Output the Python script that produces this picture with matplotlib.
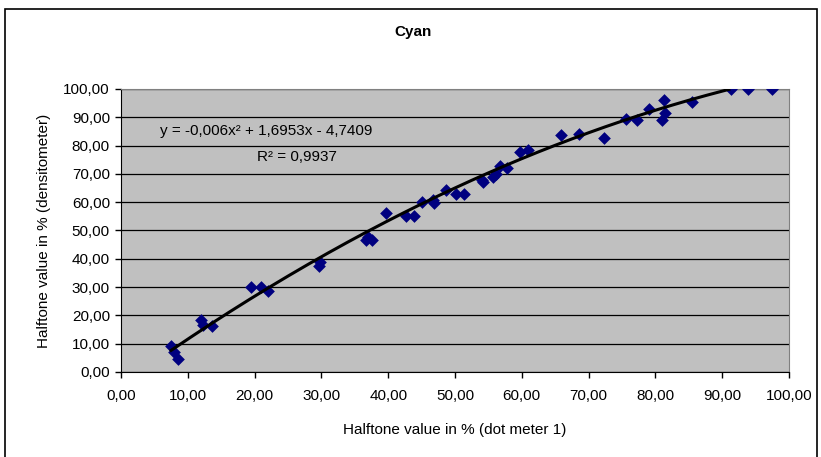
import numpy as np
import matplotlib
matplotlib.use("Agg")
import matplotlib.pyplot as plt
from matplotlib.ticker import FuncFormatter, MultipleLocator
from matplotlib.patches import Rectangle

plt.rcParams['font.family'] = ['Liberation Sans', 'DejaVu Sans']

# Data
dot_meter = [7.5, 8.0, 8.6, 12.0, 12.3, 13.6, 19.5, 21.0, 22.0, 29.7, 29.8,
             36.7, 37.0, 37.6, 39.7, 42.7, 43.8, 45.1, 46.7, 46.8, 48.6,
             50.2, 51.3, 54.1, 54.2, 55.7, 56.2, 56.7, 57.8, 59.8, 60.9,
             65.8, 68.6, 72.3, 75.6, 77.3, 79.0, 81.0, 81.5, 81.3, 85.5,
             91.3, 93.9, 97.5]
densitometer = [9.3, 7.0, 4.5, 18.2, 16.5, 16.2, 30.0, 30.0, 28.5, 37.5, 39.0,
                46.8, 47.8, 46.6, 56.1, 55.0, 55.0, 59.9, 60.8, 59.6, 64.2,
                63.0, 63.0, 68.0, 67.2, 68.8, 70.0, 72.8, 72.0, 77.8, 78.6,
                83.8, 84.0, 82.8, 89.4, 89.0, 92.9, 89.0, 91.5, 96.0, 95.5,
                100.0, 100.0, 100.0]

# polynomial trendline (from the equation shown on the chart)
coef = [-0.006, 1.6953, -4.7409]
trend_end = 91.0
r_squared = "0,9937"

fs = 11

fig = plt.figure(figsize=(8.21, 4.57), dpi=100)
ax = fig.add_axes([0.1474, 0.186, 0.8136, 0.6193])

# outer chart border
fig.patches.append(Rectangle((5 / 821, -0.02), 812 / 821, 1 - 9 / 457 + 0.02,
                             transform=fig.transFigure, fill=False,
                             edgecolor='black', linewidth=1.2))

ax.set_facecolor('#C0C0C0')
ax.set_xlim(0, 100)
ax.set_ylim(0, 100)
ax.xaxis.set_major_locator(MultipleLocator(10))
ax.yaxis.set_major_locator(MultipleLocator(10))
fmt = FuncFormatter(lambda v, p: f"{v:.2f}".replace('.', ','))
ax.xaxis.set_major_formatter(fmt)
ax.yaxis.set_major_formatter(fmt)
ax.tick_params(direction='out', length=4, width=1, labelsize=fs, colors='black')
ax.tick_params(axis='x', pad=8)
ax.tick_params(axis='y', pad=4)
ax.grid(axis='y', color='black', linewidth=0.9)
ax.set_axisbelow(True)
for s in ['top', 'right']:
    ax.spines[s].set_color('#808080')
for s in ['left', 'bottom']:
    ax.spines[s].set_color('black')

ax.scatter(dot_meter, densitometer, marker='D', s=42, color='#000080',
           zorder=3, linewidths=0)

xs = np.linspace(min(dot_meter), trend_end, 200)
ax.plot(xs, np.polyval(coef, xs), color='black', linewidth=2.2, zorder=4)

ax.text(5.8, 85.2, "y = -0,006x² + 1,6953x - 4,7409", fontsize=fs, va='center', ha='left')
ax.text(32.3, 76.0, "R² = " + r_squared, fontsize=fs, va='center', ha='right')

ax.set_xlabel("Halftone value in % (dot meter 1)", fontsize=fs, labelpad=15)
ax.set_ylabel("Halftone value in % (densitometer)", fontsize=fs, labelpad=9)

fig.text(413 / 821, 1 - 32 / 457, "Cyan", fontsize=fs, fontweight='bold',
         ha='center', va='center')

fig.savefig("out.png", dpi=100)
